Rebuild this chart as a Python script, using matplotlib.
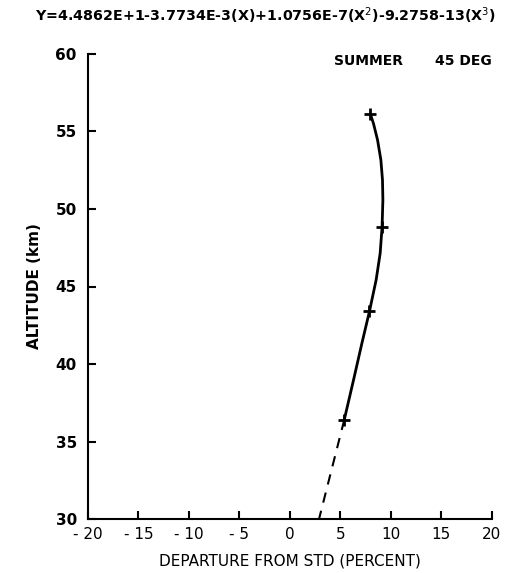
import numpy as np
import matplotlib.pyplot as plt

# plotted data points (marked with +)
dep_pts = [8.0, 9.15, 7.9, 5.4]
alt_pts = [56.1, 48.85, 43.4, 36.4]

# fitted curve
dep_curve = [8.0, 8.3, 8.7, 9.03, 9.19, 9.23, 9.15, 8.96, 8.56, 7.9, 7.15, 6.32, 5.4]
alt_curve = [56.1, 55.5, 54.45, 53.16, 51.87, 50.58, 48.85, 47.14, 45.42, 43.4, 41.34, 38.97, 36.4]

# dashed extrapolation down to 30 km
dep_dash = [5.4, 2.9]
alt_dash = [36.4, 30.0]

xticks = [-20, -15, -10, -5, 0, 5, 10, 15, 20]
yticks = [30, 35, 40, 45, 50, 55, 60]

plt.rcParams['font.family'] = ['DejaVu Sans']

fig = plt.figure(figsize=(5.11, 5.73), dpi=100)
ax = fig.add_axes([0.172, 0.094, 0.790, 0.812])

ax.plot(dep_curve, alt_curve, color='black', lw=2.0, solid_capstyle='round',
        solid_joinstyle='round')
ax.plot(dep_dash, alt_dash, color='black', lw=1.5, ls=(0, (5, 4)))
ax.plot(dep_pts, alt_pts, ls='none', marker='+', ms=9, mew=2, color='black')

ax.set_xlim(-20, 20)
ax.set_ylim(30, 60)
ax.set_xticks(xticks)
ax.set_yticks(yticks)
ax.set_xticklabels([str(t) if t >= 0 else '- ' + str(-t) for t in xticks])

for s in ['top', 'right']:
    ax.spines[s].set_visible(False)
for s in ['left', 'bottom']:
    ax.spines[s].set_linewidth(1.5)

ax.tick_params(axis='both', direction='in', length=6, width=1.5, labelsize=11)
ax.tick_params(axis='y', pad=8)
ax.tick_params(axis='x', pad=6)
for lab in ax.get_yticklabels():
    lab.set_fontweight('bold')

ax.set_xlabel('DEPARTURE FROM STD (PERCENT)', fontsize=11, labelpad=8)
ax.set_ylabel('ALTITUDE (km)', fontsize=11, fontweight='bold', labelpad=10)

fig.text(0.52, 0.972, r'Y=4.4862E+1-3.7734E-3(X)+1.0756E-7(X$^{2}$)-9.2758-13(X$^{3}$)',
         ha='center', va='center', fontsize=10.3, fontweight='bold')
ax.text(0.61, 0.985, 'SUMMER', transform=ax.transAxes, ha='left', va='center',
        fontsize=10, fontweight='bold')
ax.text(1.0, 0.985, '45 DEG', transform=ax.transAxes, ha='right', va='center',
        fontsize=10, fontweight='bold')

fig.savefig('out.png', dpi=100)
